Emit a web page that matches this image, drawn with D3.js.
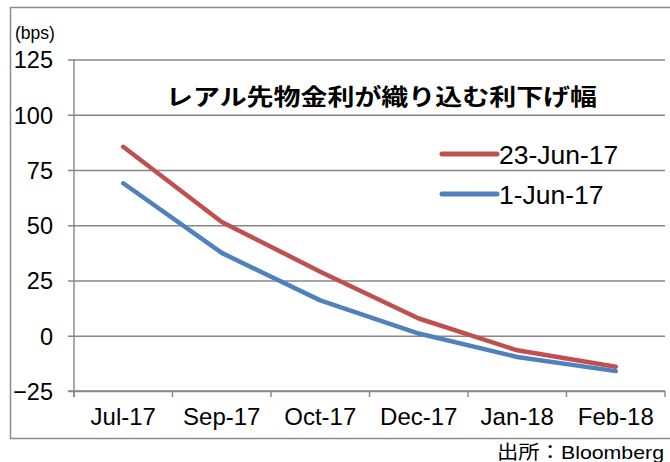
<!DOCTYPE html>
<html>
<head>
<meta charset="utf-8">
<script src="https://cdn.jsdelivr.net/npm/d3@7"></script>
<style>
  html, body { margin: 0; padding: 0; background: #fff; }
  svg { display: block; }
  text { font-family: "Liberation Sans", Arial, sans-serif; fill: #000; }
</style>
</head>
<body>
<svg id="chart" width="670" height="462"></svg>
<script>
const categories = ["Jul-17", "Sep-17", "Oct-17", "Dec-17", "Jan-18", "Feb-18"];
const seriesNames = ["23-Jun-17", "1-Jun-17"];
const jun23 = [85.5, 51.5, 29, 7.8, -6.6, -14];
const jun1 = [69, 37.5, 16, 1, -9.6, -16];
const yTicks = [-25, 0, 25, 50, 75, 100, 125];
const titleText = "レアル先物金利が織り込む利下げ幅";
const unitText = "(bps)";
const sourceText = "出所：Bloomberg";

const colors = ["#C0504D", "#4F81BD"];
const gridColor = "#878787";

const svg = d3.select("#chart");

// outer frame
svg.append("rect")
  .attr("x", 10.5).attr("y", 7.5)
  .attr("width", 700).attr("height", 431)
  .attr("fill", "none").attr("stroke", "#8c8c8c").attr("stroke-width", 1.5);

const x = d3.scaleBand().domain(categories).range([74, 665]);
const y = d3.scaleLinear().domain([-25, 125]).range([391, 59.5]);

// gridlines
const yAxis = d3.axisLeft(y).tickValues(yTicks).tickSize(-(665 - 74)).tickPadding(14);
const gy = svg.append("g").attr("transform", "translate(74,0)").call(yAxis);
gy.select(".domain").remove();
gy.selectAll(".tick line")
  .attr("x1", -6)
  .attr("stroke", gridColor).attr("stroke-width", 1.4);
gy.selectAll(".tick text")
  .attr("x", -21)
  .attr("dy", "0.36em")
  .attr("font-size", 23.5)
  .attr("font-family", "Liberation Sans, Arial, sans-serif")
  .attr("fill", "#000");

// y axis line
svg.append("line")
  .attr("x1", 74).attr("x2", 74)
  .attr("y1", y(125)).attr("y2", y(-25) + 6)
  .attr("stroke", gridColor).attr("stroke-width", 1.4);

// x axis with ticks at category boundaries
const gx = svg.append("g").attr("transform", `translate(0,${y(-25)})`);
gx.append("line").attr("x1", 68).attr("x2", 665)
  .attr("stroke", gridColor).attr("stroke-width", 1.4);
const bounds = categories.map(c => x(c)).concat([x.range()[1]]);
gx.selectAll(".bt").data(bounds).join("line")
  .attr("x1", d => d).attr("x2", d => d)
  .attr("y1", 0).attr("y2", 6)
  .attr("stroke", gridColor).attr("stroke-width", 1.4);
gx.selectAll(".xl").data(categories).join("text")
  .attr("x", d => x(d) + x.bandwidth() / 2)
  .attr("y", 34)
  .attr("text-anchor", "middle")
  .attr("font-size", 24)
  .text(d => d);

// lines
const line = d3.line()
  .x((d, i) => x(categories[i]) + x.bandwidth() / 2)
  .y(d => y(d));
[jun23, jun1].forEach((s, k) => {
  svg.append("path")
    .datum(s)
    .attr("d", line)
    .attr("fill", "none")
    .attr("stroke", colors[k])
    .attr("stroke-width", 4.5)
    .attr("stroke-linecap", "round")
    .attr("stroke-linejoin", "round");
});

// title
svg.append("text")
  .attr("x", 166).attr("y", 105)
  .attr("font-size", 22.5)
  .style("font-weight", "bold")
  .style("font-family", "'Noto Sans CJK JP', sans-serif")
  .attr("textLength", 431)
  .attr("lengthAdjust", "spacingAndGlyphs")
  .text(titleText);

// unit label
svg.append("text")
  .attr("x", 15).attr("y", 39)
  .attr("font-size", 17.5)
  .text(unitText);

// legend
const legY = [154, 194];
seriesNames.forEach((n, k) => {
  svg.append("line")
    .attr("x1", 442).attr("x2", 497)
    .attr("y1", legY[k]).attr("y2", legY[k])
    .attr("stroke", colors[k]).attr("stroke-width", 5)
    .attr("stroke-linecap", "round");
  svg.append("text")
    .attr("x", 499).attr("y", legY[k] + 9.5)
    .attr("font-size", 26.5)
    .text(n);
});

// source
svg.append("text")
  .attr("x", 497).attr("y", 459)
  .attr("font-size", 19)
  .style("font-family", "'Liberation Sans', 'Noto Sans CJK JP', sans-serif")
  .attr("textLength", 167)
  .attr("lengthAdjust", "spacingAndGlyphs")
  .text(sourceText);
</script>
</body>
</html>
